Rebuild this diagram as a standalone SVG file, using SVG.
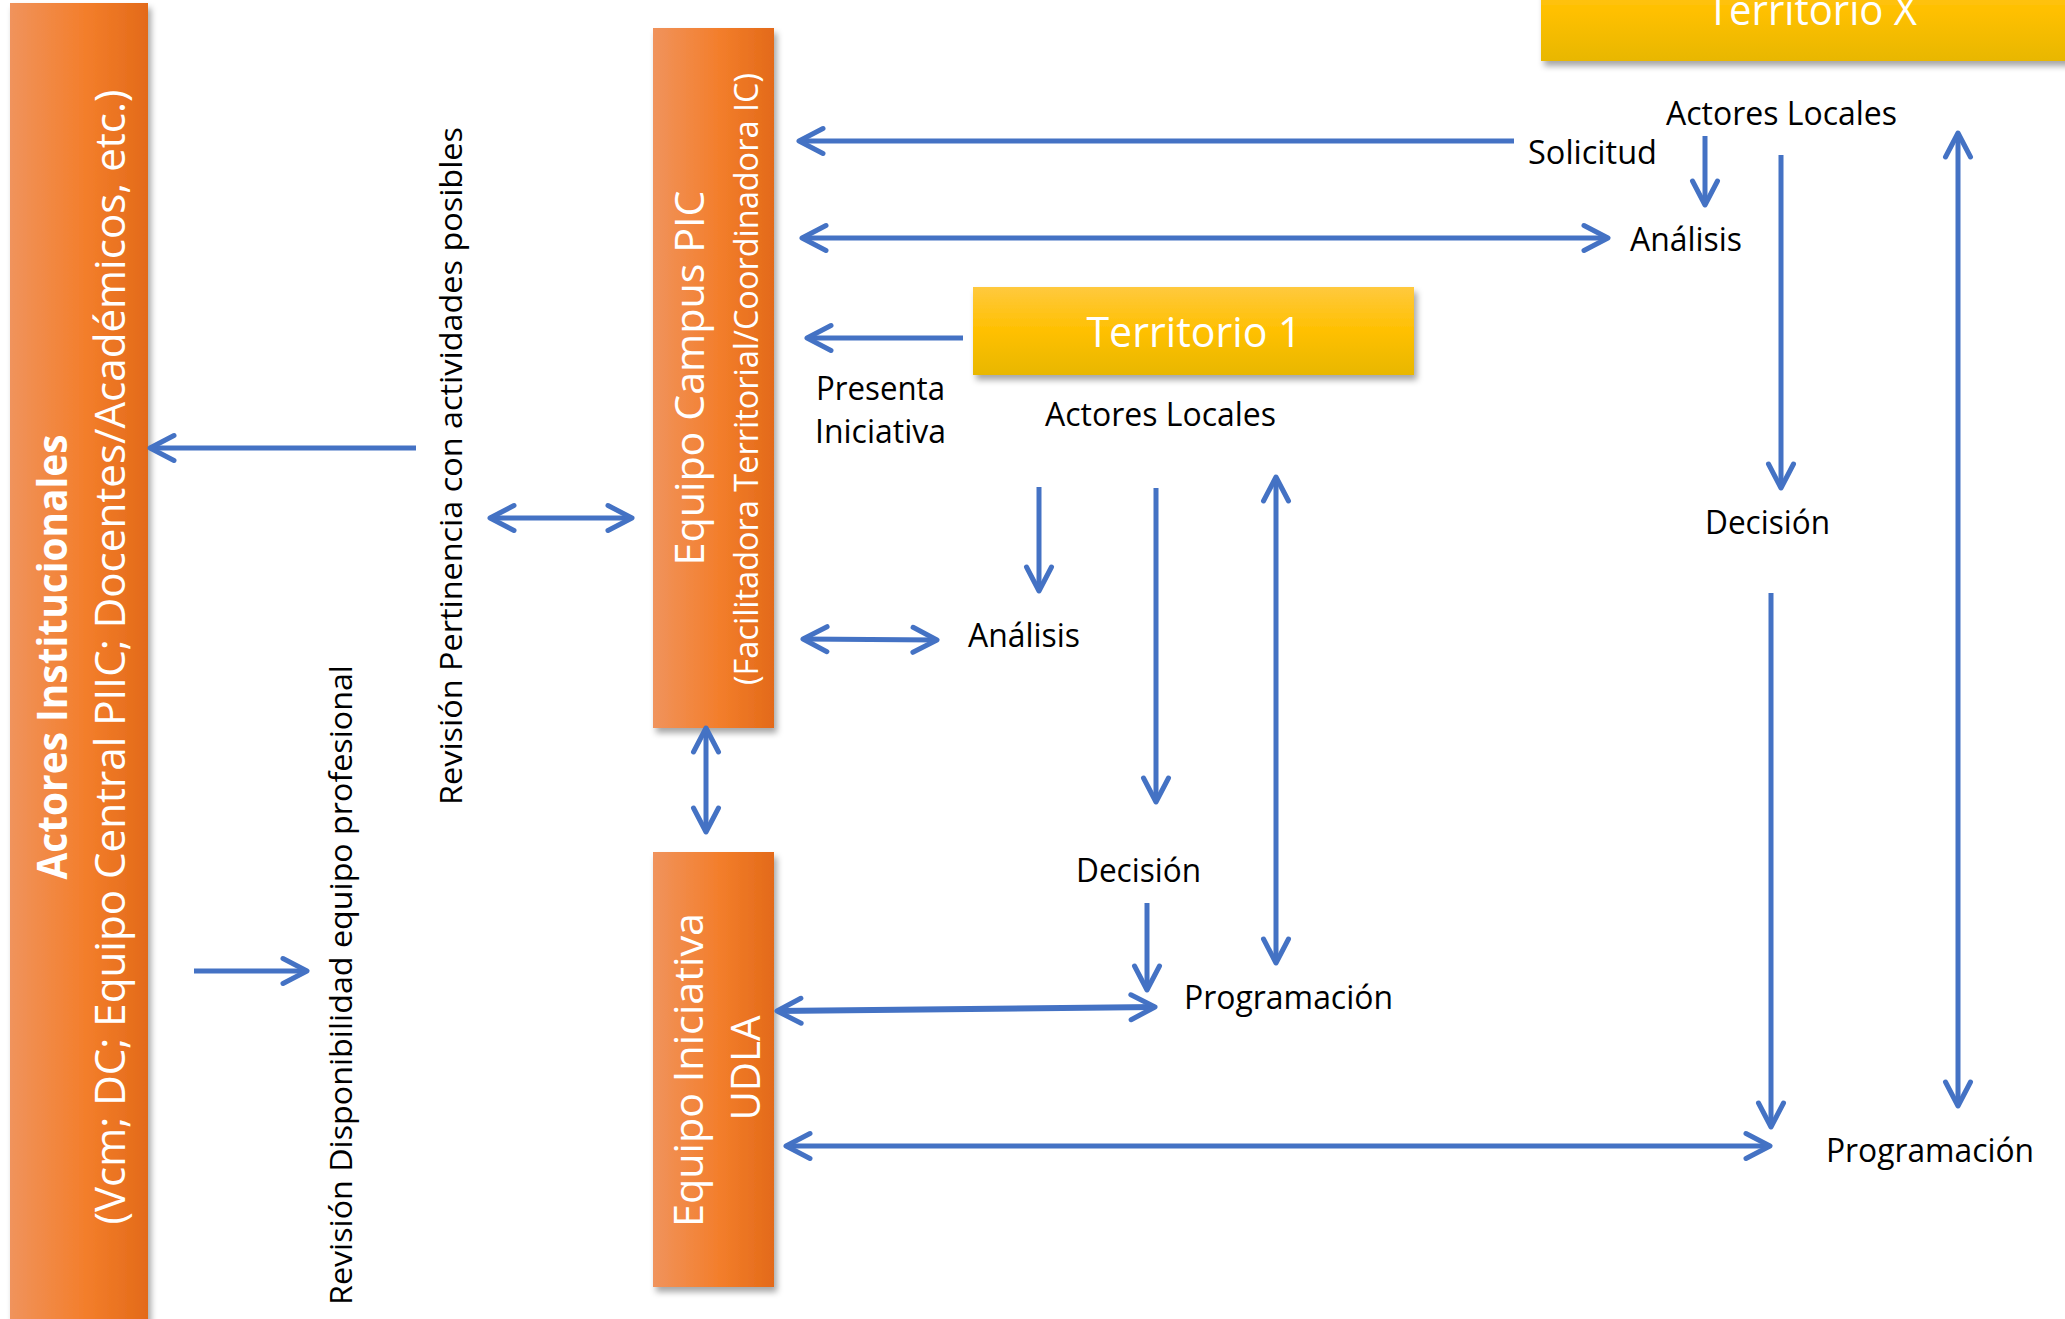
<svg xmlns="http://www.w3.org/2000/svg" width="2065" height="1319" viewBox="0 0 2065 1319">
<defs>
  <linearGradient id="gOrange" x1="0" y1="0" x2="1" y2="0">
    <stop offset="0" stop-color="#F0935C"/>
    <stop offset="0.55" stop-color="#F37E2B"/>
    <stop offset="1" stop-color="#E36A19"/>
  </linearGradient>
  <linearGradient id="gYellow" x1="0" y1="0" x2="0" y2="1">
    <stop offset="0" stop-color="#FFC93E"/>
    <stop offset="0.5" stop-color="#FFC000"/>
    <stop offset="1" stop-color="#E8B700"/>
  </linearGradient>
  <filter id="shadow" x="-20%" y="-20%" width="140%" height="140%">
    <feDropShadow dx="3" dy="5" stdDeviation="3" flood-color="#000" flood-opacity="0.35"/>
  </filter>
  <marker id="arr" viewBox="-32 -18 38 36" refX="0" refY="0" markerWidth="38" markerHeight="36" markerUnits="userSpaceOnUse" orient="auto-start-reverse">
    <path d="M-24,-12.5 L0,0 L-24,12.5" fill="none" stroke="#4472C4" stroke-width="5" stroke-linecap="round" stroke-linejoin="round"/>
  </marker>
  <style>
    .box { filter: url(#shadow); }
    .orange { fill: url(#gOrange); }
    .yellow { fill: url(#gYellow); }
    .wt { fill: #FFFFFF; font-family: "Open Sans", "Liberation Sans", sans-serif; }
    .bk { fill: #000000; font-family: "Open Sans", "Liberation Sans", sans-serif; font-size: 33px; }
    .rot { fill: #000000; font-family: "Open Sans", "Liberation Sans", sans-serif; font-size: 31px; text-anchor: middle; }
    .ln { fill: none; stroke: #4472C4; stroke-width: 5; }
    .one { marker-end: url(#arr); }
    .two { marker-start: url(#arr); marker-end: url(#arr); }
  </style>
</defs>
<rect width="2065" height="1319" fill="#FFFFFF"/>

<g id="actores-institucionales">
  <rect class="box orange" x="10" y="3" width="138" height="1330"/>
  <text class="wt" transform="translate(67,657) rotate(-90)" text-anchor="middle" font-size="41" font-weight="bold" textLength="445" lengthAdjust="spacingAndGlyphs">Actores Institucionales</text>
  <text class="wt" transform="translate(125,657) rotate(-90)" text-anchor="middle" font-size="42" textLength="1135" lengthAdjust="spacingAndGlyphs">(Vcm; DC; Equipo Central PIIC; Docentes/Académicos, etc.)</text>
</g>

<g id="equipo-campus-pic">
  <rect class="box orange" x="653" y="28" width="121" height="700"/>
  <text class="wt" transform="translate(704,378) rotate(-90)" text-anchor="middle" font-size="41" textLength="375" lengthAdjust="spacingAndGlyphs">Equipo Campus PIC</text>
  <text class="wt" transform="translate(758,379) rotate(-90)" text-anchor="middle" font-size="32" textLength="612" lengthAdjust="spacingAndGlyphs">(Facilitadora Territorial/Coordinadora IC)</text>
</g>

<g id="equipo-iniciativa-udla">
  <rect class="box orange" x="653" y="852" width="121" height="435"/>
  <text class="wt" transform="translate(703,1070) rotate(-90)" text-anchor="middle" font-size="40" textLength="314" lengthAdjust="spacingAndGlyphs">Equipo Iniciativa</text>
  <text class="wt" transform="translate(760,1068) rotate(-90)" text-anchor="middle" font-size="40" textLength="105" lengthAdjust="spacingAndGlyphs">UDLA</text>
</g>

<g id="territorio-1">
  <rect class="box yellow" x="973" y="287" width="441" height="88"/>
  <text class="wt" x="1194" y="347" text-anchor="middle" font-size="42" textLength="215" lengthAdjust="spacingAndGlyphs">Territorio 1</text>
</g>

<g id="territorio-x">
  <rect class="box yellow" x="1541" y="-40" width="540" height="101"/>
  <text class="wt" x="1812" y="25" text-anchor="middle" font-size="42" textLength="210" lengthAdjust="spacingAndGlyphs">Territorio X</text>
</g>

<g id="labels">
  <text class="rot" transform="translate(462,466) rotate(-90)" textLength="678" lengthAdjust="spacingAndGlyphs">Revisión Pertinencia con actividades posibles</text>
  <text class="rot" transform="translate(352,985) rotate(-90)" textLength="640" lengthAdjust="spacingAndGlyphs">Revisión Disponibilidad equipo profesional</text>
  <text class="bk" x="816" y="400" textLength="129" lengthAdjust="spacingAndGlyphs">Presenta</text>
  <text class="bk" x="815" y="443" textLength="131" lengthAdjust="spacingAndGlyphs">Iniciativa</text>
  <text class="bk" x="1045" y="426" textLength="231" lengthAdjust="spacingAndGlyphs">Actores Locales</text>
  <text class="bk" x="968" y="647" textLength="112" lengthAdjust="spacingAndGlyphs">Análisis</text>
  <text class="bk" x="1076" y="882" textLength="125" lengthAdjust="spacingAndGlyphs">Decisión</text>
  <text class="bk" x="1184" y="1009" textLength="209" lengthAdjust="spacingAndGlyphs">Programación</text>
  <text class="bk" x="1528" y="164" textLength="129" lengthAdjust="spacingAndGlyphs">Solicitud</text>
  <text class="bk" x="1666" y="125" textLength="231" lengthAdjust="spacingAndGlyphs">Actores Locales</text>
  <text class="bk" x="1630" y="251" textLength="112" lengthAdjust="spacingAndGlyphs">Análisis</text>
  <text class="bk" x="1705" y="534" textLength="125" lengthAdjust="spacingAndGlyphs">Decisión</text>
  <text class="bk" x="1826" y="1162" textLength="208" lengthAdjust="spacingAndGlyphs">Programación</text>
</g>

<g id="connectors">
  <path class="ln one" d="M416,448 L150,448"/>
  <path class="ln two" d="M490,518 L632,518"/>
  <path class="ln one" d="M194,971 L307,971"/>
  <path class="ln two" d="M706,728 L706,832"/>
  <path class="ln one" d="M1514,141 L799,141"/>
  <path class="ln two" d="M802,238 L1608,238"/>
  <path class="ln one" d="M963,338 L807,338"/>
  <path class="ln two" d="M803,639 L937,640"/>
  <path class="ln one" d="M1039,487 L1039,591"/>
  <path class="ln one" d="M1156,488 L1156,802"/>
  <path class="ln two" d="M1276,477 L1276,963"/>
  <path class="ln one" d="M1147,903 L1147,990"/>
  <path class="ln two" d="M777,1011 L1155,1007" style="stroke-width:6"/>
  <path class="ln two" d="M786,1146 L1770,1146"/>
  <path class="ln one" d="M1771,593 L1771,1127"/>
  <path class="ln one" d="M1781,155 L1781,488"/>
  <path class="ln one" d="M1705,136 L1705,205"/>
  <path class="ln two" d="M1958,133 L1958,1106"/>
</g>
</svg>
